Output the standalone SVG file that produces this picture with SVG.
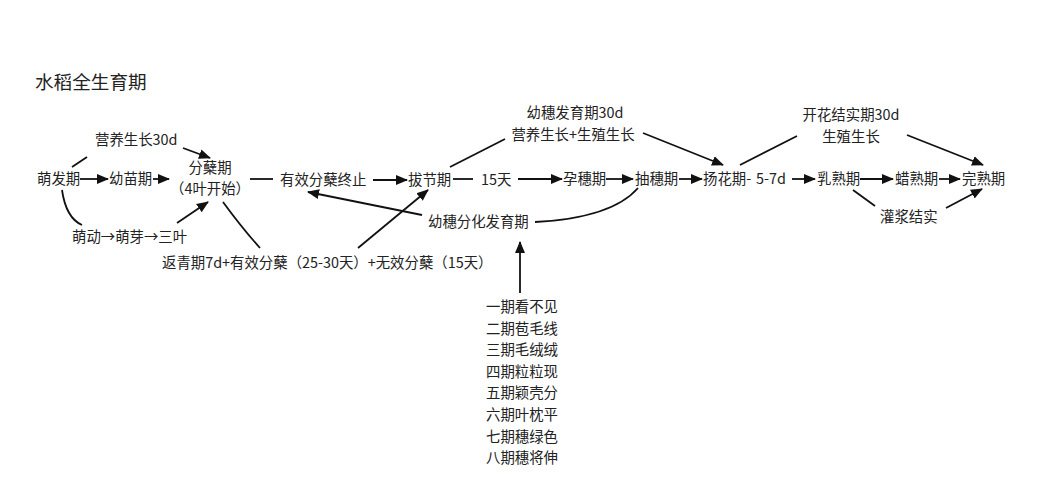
<svg xmlns="http://www.w3.org/2000/svg" width="1039" height="480" viewBox="0 0 1039 480">
<style>
text{font-family:"Noto Sans CJK SC","Liberation Sans",sans-serif;font-size:14.4px;fill:#222}
.t{font-size:18.6px}
.m{text-anchor:middle}
.c{fill:none;stroke:#111;stroke-width:1.8}
.a{marker-end:url(#ah)}
</style>
<defs>
<marker id="ah" markerUnits="userSpaceOnUse" markerWidth="12" markerHeight="12" viewBox="0 0 12 12" refX="11" refY="6" orient="auto">
<path d="M0,1 L12,6 L0,11 Z" fill="#111"/>
</marker>
</defs>
<rect width="1039" height="480" fill="#fff"/>
<g id="title"><text class="t" x="35" y="89">水稻全生育期</text></g>
<g id="connectors">
<line class="c a" x1="80" y1="179" x2="108" y2="179"/>
<line class="c a" x1="153" y1="179" x2="169" y2="179"/>
<line class="c" x1="250" y1="179" x2="273" y2="179"/>
<line class="c a" x1="373" y1="180" x2="407" y2="180"/>
<line class="c" x1="453" y1="179" x2="473" y2="179"/>
<line class="c a" x1="518" y1="179" x2="562" y2="179"/>
<line class="c a" x1="606" y1="179" x2="633" y2="179"/>
<line class="c a" x1="679" y1="179" x2="702" y2="179"/>
<line class="c a" x1="792" y1="179" x2="815" y2="179"/>
<line class="c a" x1="860" y1="179" x2="893" y2="179"/>
<line class="c a" x1="939" y1="179" x2="960" y2="179"/>
<line class="c" x1="72" y1="167" x2="87" y2="157"/>
<line class="c a" x1="183" y1="148" x2="210" y2="158"/>
<path class="c" d="M62,190 Q66,218 82,225"/>
<line class="c a" x1="177" y1="223" x2="208" y2="202"/>
<path class="c" d="M223,202 Q242,228 260,248"/>
<line class="c a" x1="358" y1="248" x2="428" y2="190"/>
<line class="c a" x1="422" y1="215" x2="308" y2="192"/>
<line class="c" x1="450" y1="167" x2="505" y2="139"/>
<line class="c a" x1="643" y1="133" x2="723" y2="165"/>
<path class="c" d="M535,222 Q612,218 638,188"/>
<line class="c a" x1="520" y1="293" x2="520" y2="242"/>
<line class="c" x1="740" y1="165" x2="797" y2="136"/>
<line class="c a" x1="907" y1="135" x2="983" y2="165"/>
<line class="c" x1="853" y1="190" x2="875" y2="206"/>
<line class="c a" x1="946" y1="208" x2="982" y2="189"/>
</g>
<g id="n-mengfa"><text x="37" y="184">萌发期</text></g>
<g id="n-youmiao"><text x="109" y="184">幼苗期</text></g>
<g id="n-fennie"><text class="m" x="210" y="173">分蘖期</text><text class="m" x="210" y="194">（4叶开始）</text></g>
<g id="n-zhongzhi"><text x="280" y="185">有效分蘖终止</text></g>
<g id="n-bajie"><text x="408" y="185">拔节期</text></g>
<g id="n-15"><text x="481" y="185">15天</text></g>
<g id="n-yunsui"><text x="563" y="184">孕穗期</text></g>
<g id="n-chousui"><text x="635" y="184">抽穗期</text></g>
<g id="n-yanghua"><text x="703" y="184">扬花期-</text></g>
<g id="n-57"><text x="756" y="184">5-7d</text></g>
<g id="n-rushu"><text x="817" y="184">乳熟期</text></g>
<g id="n-lashu"><text x="895" y="184">蜡熟期</text></g>
<g id="n-wanshu"><text x="962" y="184">完熟期</text></g>
<g id="n-yingyang"><text x="95" y="145">营养生长30d</text></g>
<g id="n-mengdong"><text x="72" y="242">萌动→萌芽→三叶</text></g>
<g id="n-fanqing"><text x="162" y="268">返青期7d+有效分蘖（25-30天）+无效分蘖（15天）</text></g>
<g id="n-fenhua"><text x="428" y="227">幼穗分化发育期</text></g>
<g id="n-yousui"><text class="m" x="575" y="118">幼穗发育期30d</text><text class="m" x="573" y="140">营养生长+生殖生长</text></g>
<g id="n-kaihua"><text class="m" x="851" y="120">开花结实期30d</text><text class="m" x="851" y="142">生殖生长</text></g>
<g id="n-guanjiang"><text x="880" y="222">灌浆结实</text></g>
<g id="n-list">
<text x="486" y="312">一期看不见</text>
<text x="486" y="333.6">二期苞毛线</text>
<text x="486" y="355.2">三期毛绒绒</text>
<text x="486" y="376.8">四期粒粒现</text>
<text x="486" y="398.4">五期颖壳分</text>
<text x="486" y="420">六期叶枕平</text>
<text x="486" y="441.6">七期穗绿色</text>
<text x="486" y="463.2">八期穗将伸</text>
</g>
</svg>
